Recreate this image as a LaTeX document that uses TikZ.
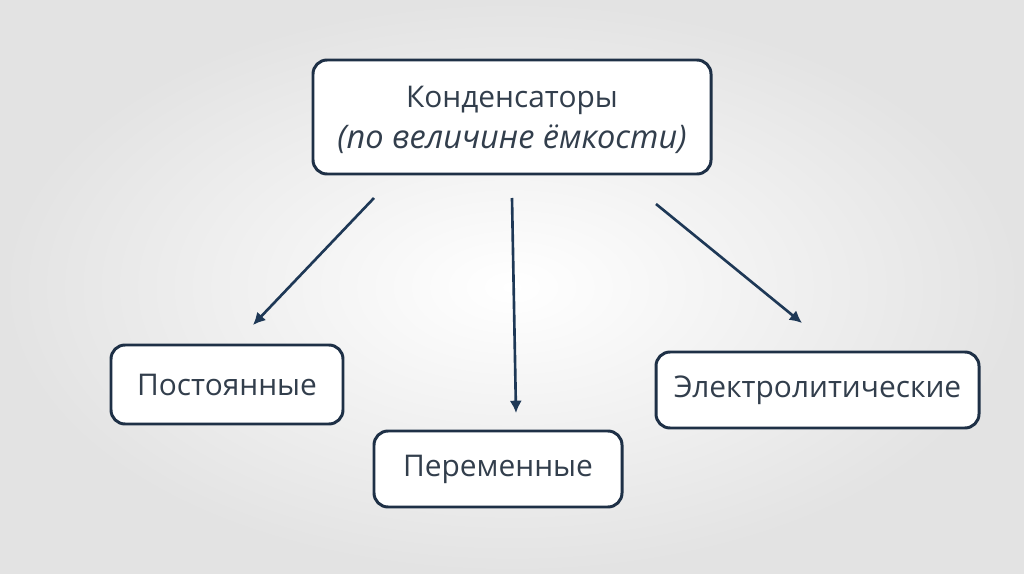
\documentclass[tikz,border=0pt]{standalone}
\usepackage{fontspec}
\setmainfont{Open Sans}
\usepackage{tikz}
\definecolor{navy}{RGB}{30,48,70}
\definecolor{arrowblue}{RGB}{30,56,86}
\definecolor{inktext}{RGB}{50,62,76}
\tikzset{
  kind/.style={draw=navy,line width=1.7pt,rounded corners=8pt,fill=white,
    text=inktext,font=\fontsize{17}{24}\selectfont,align=center,inner sep=0pt},
  link/.style={draw=arrowblue,line width=1.5pt,-{Latex[width=7pt,length=7pt]}}
}
\usetikzlibrary{arrows.meta}

\begin{document}
\begin{tikzpicture}[x=0.02cm,y=-0.02cm]
  % backdrop
  \shade[inner color=white,outer color=gray!22] (0,0) rectangle (1024,574);
  \useasboundingbox (0,0) rectangle (1024,574);
  % boxes
  \node[kind,minimum width=398*0.02cm,minimum height=114*0.02cm] (cap) at (512,117)
    {};
  \node[text=inktext,font=\fontsize{17}{24}\selectfont] (captitle) at (512,100) {Конденсаторы};
  \node[text=inktext,font=\fontsize{18.5}{24}\selectfont\itshape] (capsub) at (512,139) {(по величине ёмкости)};
  \node[kind,minimum width=232*0.02cm,minimum height=79*0.02cm] (const) at (227,384.5) {Постоянные};
  \node[kind,minimum width=248*0.02cm,minimum height=76*0.02cm] (var) at (498,469) {Переменные};
  \node[kind,minimum width=323*0.02cm,minimum height=76*0.02cm] (elec) at (817.5,390) {Электролитические};
  % arrows (free standing)
  \coordinate (a1) at (374,198); \coordinate (b1) at (253,325);
  \coordinate (a2) at (512,198); \coordinate (b2) at (516,413);
  \coordinate (a3) at (656,204); \coordinate (b3) at (802,323);
  \foreach \i in {1,2,3}
    \draw[link] (a\i) -- (b\i);
\end{tikzpicture}
\end{document}
